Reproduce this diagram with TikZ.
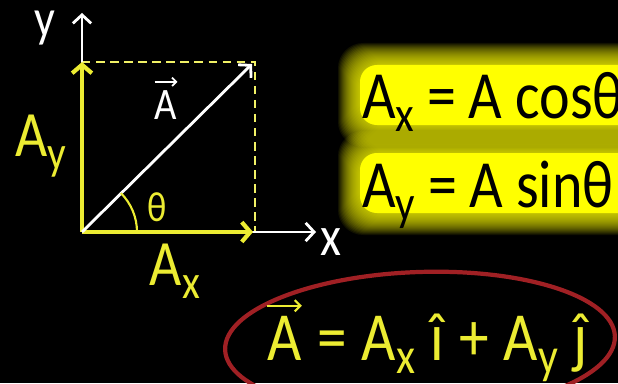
\documentclass[tikz,border=0pt]{standalone}
\usepackage{fontspec}
\setmainfont{Carlito}[FakeStretch=0.86]
\usetikzlibrary{arrows.meta}
\definecolor{vecyellow}{RGB}{236,236,50}
\definecolor{glowyellow}{RGB}{255,255,0}
\definecolor{ringred}{RGB}{160,32,36}
\newcommand\sub[1]{\raisebox{-0.2em}{\scalebox{0.74}{#1}}}
\newcommand\gap{\hspace{0.19em}}
\newcommand\wgap{\hspace{0.22em}}

\begin{document}
\begin{tikzpicture}[x=0.025cm,y=0.025cm,
axis/.style={white, line width=2pt, -{Straight Barb[length=6pt,width=13pt,line width=2pt]}},
comp/.style={vecyellow, line width=3pt, -{Straight Barb[length=6pt,width=14pt,line width=3pt]}},
guide/.style={vecyellow!75!white, line width=1.5pt, dash pattern=on 6pt off 4pt},
lbl/.style={font=\fontsize{46}{46}\selectfont, inner sep=0pt},
eqn/.style={font=\fontsize{48}{48}\selectfont, inner sep=0pt, anchor=base west},
]
\useasboundingbox (0,0) rectangle (618,383);
\fill[black] (0,0) rectangle (618,383);

% axes and components
\coordinate (O) at (82,151);
\coordinate (ytip) at (82,370);
\coordinate (xtip) at (316,151);
\coordinate (aytip) at (82,321);
\coordinate (axtip) at (253,151);
\coordinate (corner) at (255,321);
\coordinate (atip) at (252,319);

\draw[guide] (aytip) -- (corner) -- (255,151);
\draw[axis] (O) -- (ytip);
\draw[axis] (O) -- (xtip);
\draw[comp] (O) -- (aytip);
\draw[comp] (O) -- (axtip);
\draw[axis] (O) -- (atip);
\draw[vecyellow, line width=1.5pt] ([shift={(55,0)}]O) arc (0:45:55);

\node[lbl, white, font=\fontsize{38}{38}\selectfont] (ylab) at (45,355) {y};
\node[lbl, white, font=\fontsize{40}{40}\selectfont] (xlab) at (331,141) {x};
\node[lbl, vecyellow] (ay) at (41,237) {A\sub{y}};
\node[lbl, vecyellow] (ax) at (175,112) {A\sub{x}};
\node[lbl, vecyellow, font=\fontsize{30}{30}\selectfont] (th) at (157,176) {θ};
\node[lbl, white, font=\fontsize{32}{32}\selectfont] (avec) at (166,278) {A};
\draw[white, line width=1.2pt, -{Straight Barb[length=3pt,width=6pt]}]
  ([yshift=6pt]avec.north west) -- ([yshift=6pt]avec.north east);

% glowing equations
\foreach \g in {1,...,22} {
  \fill[glowyellow, opacity=0.065, rounded corners=18pt] (360-\g,258-\g) rectangle (640+\g,318+\g);
  \fill[glowyellow, opacity=0.065, rounded corners=18pt] (360-\g,170-\g) rectangle (640+\g,230+\g);
}
\fill[glowyellow, rounded corners=12pt] (360,258) rectangle (640,318);
\fill[glowyellow, rounded corners=12pt] (360,170) rectangle (640,230);
\node[eqn] (eqx) at (362,265) {A\sub{x}\gap=\gap A\gap cosθ};
\node[eqn] (eqy) at (362,176) {A\sub{y}\gap=\gap A\gap sinθ};

% vector sum
\draw[ringred, line width=3pt, rotate around={2:(420,40)}] (420,40) ellipse [x radius=195, y radius=71];
\node[eqn, vecyellow, font=\fontsize{49}{49}\selectfont] (veca) at (267,23) {A};
\draw[vecyellow, line width=1.5pt, -{Straight Barb[length=4pt,width=8pt]}]
  ([yshift=7pt]veca.north west) -- ([yshift=7pt]veca.north east);
\node[eqn, vecyellow, font=\fontsize{49}{49}\selectfont] (sum) at (veca.base east)
  {\wgap=\wgap A\sub{x}\wgap î\wgap+\wgap A\sub{y}\wgap ĵ};
\end{tikzpicture}
\end{document}
